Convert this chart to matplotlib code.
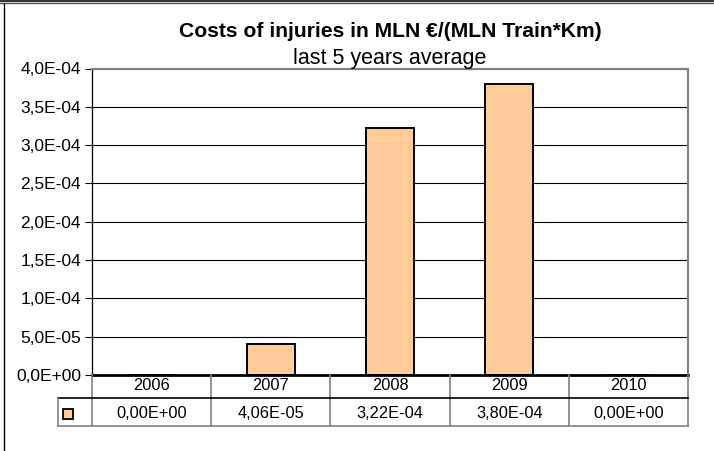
import matplotlib
matplotlib.use('Agg')
import matplotlib.pyplot as plt
import matplotlib.transforms as mtransforms
from matplotlib.lines import Line2D
from matplotlib.patches import Rectangle
from matplotlib.ticker import FuncFormatter, MultipleLocator

plt.rcParams['font.family'] = ['Liberation Sans', 'DejaVu Sans']

years = ['2006', '2007', '2008', '2009', '2010']
costs = [0.0, 4.06e-5, 3.22e-4, 3.80e-4, 0.0]

W, H = 714, 451
fig = plt.figure(figsize=(W/100, H/100), dpi=100)

def fy(py):
    # pixel row (from top) -> figure fraction
    return 1 - py/H

def fx(px):
    return px/W

left, right, top, bottom = 92, 688, 68.5, 375
ax = fig.add_axes([fx(left), fy(bottom), fx(right-left), (bottom-top)/H])

x = range(len(years))
ax.bar(x, costs, width=0.4, color='#FFCC99', edgecolor='black', linewidth=1.4, zorder=3)
ax.set_xlim(-0.5, len(years)-0.5)
ax.set_ylim(0, 4e-4)
ax.yaxis.set_major_locator(MultipleLocator(5e-5))
ax.yaxis.set_major_formatter(FuncFormatter(lambda v, p: f"{v:.1E}".replace('.', ',')))
ax.grid(axis='y', color='black', linewidth=0.8, zorder=0)
ax.set_xticks([])
ax.tick_params(axis='y', direction='out', length=5, width=0.8, labelsize=12.5, pad=3)

ax.spines['top'].set_color('#808080')
ax.spines['right'].set_color('#808080')
ax.spines['top'].set_linewidth(1.5)
ax.spines['right'].set_linewidth(1.5)
ax.spines['left'].set_color('black')
ax.spines['left'].set_linewidth(0.9)
ax.spines['bottom'].set_color('black')
ax.spines['bottom'].set_linewidth(2)
ax.spines['bottom'].set_zorder(4)

# titles
cx = fx((left+right)/2)
fig.text(cx, fy(37), 'Costs of injuries in MLN €/(MLN Train*Km)', ha='center', va='baseline',
         fontsize=15.2, fontweight='bold')
fig.text(cx, fy(64), 'last 5 years average', ha='center', va='baseline', fontsize=15.5)

# data table below the axes
tr = mtransforms.blended_transform_factory(ax.transData, fig.transFigure)
row_mid, row_bot = 398, 426
key_left = 58
grey = '#808080'
for i in range(len(years)+1):
    xb = i - 0.5
    fig.add_artist(Line2D([xb, xb], [fy(bottom), fy(row_bot)], transform=tr,
                          color=grey, linewidth=1.2))
fig.add_artist(Line2D([fx(key_left), fx(right)], [fy(row_mid), fy(row_mid)],
                      transform=fig.transFigure, color='black', linewidth=1.2))
fig.add_artist(Line2D([fx(key_left), fx(right)], [fy(row_bot), fy(row_bot)],
                      transform=fig.transFigure, color=grey, linewidth=1.2))
fig.add_artist(Line2D([fx(key_left), fx(key_left)], [fy(row_mid), fy(row_bot)],
                      transform=fig.transFigure, color=grey, linewidth=1.2))

for i, (yr, v) in enumerate(zip(years, costs)):
    fig.text(i, fy(390), yr, transform=tr, ha='center', va='baseline', fontsize=11.8)
    fig.text(i, fy(418), f"{v:.2E}".replace('.', ','), transform=tr,
             ha='center', va='baseline', fontsize=11.8)

# legend key
fig.add_artist(Rectangle((fx(63), fy(419)), fx(10), 10/H, transform=fig.transFigure,
                         facecolor='#FFCC99', edgecolor='black', linewidth=1.3))

# outer chart frame (partially visible)
fig.add_artist(Line2D([0, 1], [fy(0.8), fy(0.8)], transform=fig.transFigure, color='#333333', linewidth=1.6))
fig.add_artist(Line2D([0, 1], [fy(3.2), fy(3.2)], transform=fig.transFigure, color='#555555', linewidth=1.0))
fig.add_artist(Line2D([fx(4), fx(4)], [fy(4), 0], transform=fig.transFigure, color='black', linewidth=1.0))

fig.savefig('out.png', dpi=100)
